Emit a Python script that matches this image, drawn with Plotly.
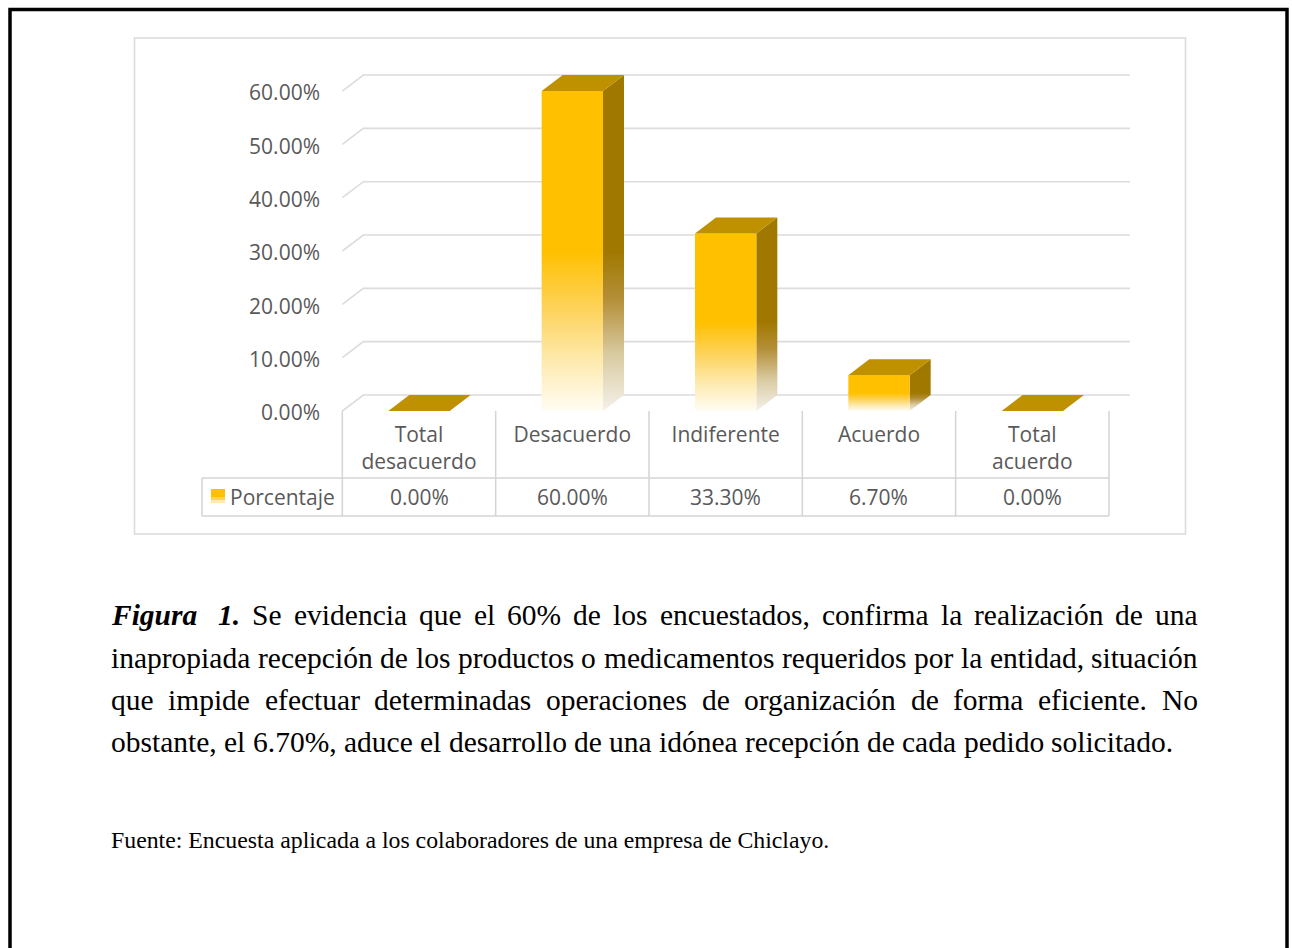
import plotly.graph_objects as go

# ---------------- data ----------------
categories = ["Total<br>desacuerdo", "Desacuerdo", "Indiferente", "Acuerdo", "Total<br>acuerdo"]
porcentaje = [0.0, 60.0, 33.3, 6.7, 0.0]
y_ticks = [0, 10, 20, 30, 40, 50, 60]
y_tick_labels = [f"{v:.2f}%" for v in y_ticks]
series_name = "Porcentaje"

caption_lines = [
    [("Figura", "bi"), ("1.", "bi"), "Se", "evidencia", "que", "el", "60%", "de", "los",
     "encuestados,", "confirma", "la", "realización", "de", "una"],
    ["inapropiada", "recepción", "de", "los", "productos", "o", "medicamentos", "requeridos",
     "por", "la", "entidad,", "situación"],
    ["que", "impide", "efectuar", "determinadas", "operaciones", "de", "organización", "de",
     "forma", "eficiente.", "No"],
    ["obstante,", "el", "6.70%,", "aduce", "el", "desarrollo", "de", "una", "idónea", "recepción",
     "de", "cada", "pedido", "solicitado."],
]
caption_justified = [True, True, True, False]
fuente = "Fuente: Encuesta aplicada a los colaboradores de una empresa de Chiclayo."

# ---------------- geometry (pixels) ----------------
W, H = 1292, 948
PX_CAT0 = 419.0          # pixel x of first category centre (front plane)
PX_PER_CAT = 153.33
PY_ZERO = 411.0          # pixel y of 0 % on the front plane
PX_PER_PCT = 5.333
X0 = (0 - PX_CAT0) / PX_PER_CAT
X1 = (W - PX_CAT0) / PX_PER_CAT
Y1 = PY_ZERO / PX_PER_PCT
Y0 = (PY_ZERO - H) / PX_PER_PCT
DX = 21 / PX_PER_CAT     # depth offset (categories)
DY = 16 / PX_PER_PCT     # depth offset (percent)
BW = 0.2                 # half bar width
NC = len(categories)


def pxx(x):
    return x / W


def pxy(y):
    return 1 - y / H


def cat_px(c):
    return PX_CAT0 + c * PX_PER_CAT


GOLD = "#FFC000"
TOP = "#BF9000"
SIDE = "#A07800"
GRID = "#DCDCDC"
TXT = "#595959"
SANS = "Open Sans"

fig = go.Figure()

# back-wall gridlines
gx, gy = [], []
for v in y_ticks:
    gx += [-0.5, -0.5 + DX, NC - 0.5 + DX, None]
    gy += [v, v + DY, v + DY, None]
fig.add_trace(go.Scatter(x=gx, y=gy, mode="lines", line=dict(color=GRID, width=1.6),
                         hoverinfo="skip", showlegend=False))

front_scale = [[0, "#FFFCF4"], [0.3, "#FEEBB2"], [0.65, "#FDD258"], [1, GOLD]]
side_scale = [[0, "#F4F1EA"], [0.35, "#D9CBA2"], [0.7, "#B48F38"], [1, SIDE]]

for i, v in enumerate(porcentaje):
    if v > 0:
        # side face
        fig.add_trace(go.Scatter(
            x=[i + BW, i + BW + DX, i + BW + DX, i + BW, i + BW],
            y=[0, DY, v + DY, v, 0], mode="lines", line=dict(width=0),
            fill="toself",
            fillgradient=dict(type="vertical", colorscale=side_scale, start=0, stop=v * 0.5),
            hoverinfo="skip", showlegend=False))
        # front face
        fig.add_trace(go.Scatter(
            x=[i - BW, i + BW, i + BW, i - BW, i - BW],
            y=[0, 0, v, v, 0], mode="lines", line=dict(width=0),
            fill="toself",
            fillgradient=dict(type="vertical", colorscale=front_scale, start=0, stop=v * 0.5),
            hoverinfo="skip", showlegend=False))
    # top face
    fig.add_trace(go.Scatter(
        x=[i - BW, i + BW, i + BW + DX, i - BW + DX, i - BW],
        y=[v, v, v + DY, v + DY, v], mode="lines", line=dict(width=0),
        fill="toself", fillcolor=TOP, hoverinfo="skip", showlegend=False))

# invisible trace carrying the visible axes
fig.add_trace(go.Scatter(x=list(range(NC)), y=porcentaje, xaxis="x2", yaxis="y2",
                         mode="markers", marker=dict(opacity=0), hoverinfo="skip",
                         showlegend=False))

shapes = []
# page border
shapes.append(dict(type="rect", xref="paper", yref="paper", x0=pxx(10), x1=pxx(1287),
                   y0=pxy(9.5), y1=pxy(1000), line=dict(color="black", width=3.5)))
# chart area border
shapes.append(dict(type="rect", xref="paper", yref="paper", x0=pxx(134.5), x1=pxx(1185.5),
                   y0=pxy(38), y1=pxy(534), line=dict(color="#D9D9D9", width=1.5)))
# data table
TBL_TOP, TBL_MID, TBL_BOT, TBL_LEFT = 411, 478, 516, 202
LINEC = "#D4D4D4"
for k in range(NC + 1):
    xx = cat_px(k - 0.5)
    shapes.append(dict(type="line", xref="paper", yref="paper", x0=pxx(xx), x1=pxx(xx),
                       y0=pxy(TBL_TOP), y1=pxy(TBL_BOT), line=dict(color=LINEC, width=1.5)))
for yy in (TBL_MID, TBL_BOT):
    shapes.append(dict(type="line", xref="paper", yref="paper", x0=pxx(TBL_LEFT),
                       x1=pxx(cat_px(NC - 0.5)), y0=pxy(yy), y1=pxy(yy),
                       line=dict(color=LINEC, width=1.5)))
shapes.append(dict(type="line", xref="paper", yref="paper", x0=pxx(TBL_LEFT), x1=pxx(TBL_LEFT),
                   y0=pxy(TBL_MID), y1=pxy(TBL_BOT), line=dict(color=LINEC, width=1.5)))
# legend key
for (a, b, c) in [(489, 497, GOLD), (497, 500.5, "#FDD258"), (500.5, 503, "#FEEBB2")]:
    shapes.append(dict(type="rect", xref="paper", yref="paper", x0=pxx(211), x1=pxx(225),
                       y0=pxy(b), y1=pxy(a), line=dict(width=0), fillcolor=c))

annotations = []
ROW_Y = 496.5
annotations.append(dict(x=pxx(229), y=pxy(ROW_Y), xref="paper", yref="paper", text=series_name,
                        showarrow=False, xanchor="left", yanchor="middle", borderpad=0,
                        font=dict(family=SANS, size=21, color=TXT)))
for i, v in enumerate(porcentaje):
    annotations.append(dict(x=i, y=pxy(ROW_Y), xref="x", yref="paper", text=f"{v:.2f}%",
                            showarrow=False, xanchor="center", yanchor="middle", borderpad=0,
                            font=dict(family=SANS, size=21, color=TXT)))

# ---------------- caption (justified) ----------------
TR = {' ': 250, '%': 833, ',': 250, '.': 250, ':': 278,
      'A': 722, 'B': 667, 'C': 667, 'D': 722, 'E': 611, 'F': 556, 'G': 722, 'H': 722, 'I': 333,
      'J': 389, 'K': 722, 'L': 611, 'M': 889, 'N': 722, 'O': 722, 'P': 556, 'Q': 722, 'R': 667,
      'S': 556, 'T': 611, 'U': 722, 'V': 722, 'W': 944, 'X': 722, 'Y': 722, 'Z': 611,
      'a': 444, 'b': 500, 'c': 444, 'd': 500, 'e': 444, 'f': 333, 'g': 500, 'h': 500, 'i': 278,
      'j': 278, 'k': 500, 'l': 278, 'm': 778, 'n': 500, 'o': 500, 'p': 500, 'q': 500, 'r': 333,
      's': 389, 't': 278, 'u': 500, 'v': 500, 'w': 722, 'x': 500, 'y': 500, 'z': 444,
      'á': 444, 'é': 444, 'í': 278, 'ó': 500, 'ú': 500, 'ñ': 500}
for d in "0123456789":
    TR[d] = 500
TBI = {'F': 667, 'i': 278, 'g': 500, 'u': 556, 'r': 389, 'a': 500, '1': 500, '.': 250}

CAP_FS = 29.5
CAP_XL, CAP_XR = 111, 1198
CAP_Y = [615, 658, 700, 742]
SERIF = "Liberation Serif"


def wwidth(word, table, fs):
    return sum(table.get(ch, 500) for ch in word) * fs / 1000.0


for li, words in enumerate(caption_lines):
    items = []
    for w in words:
        if isinstance(w, tuple):
            items.append((f"<b><i>{w[0]}</i></b>", wwidth(w[0], TBI, CAP_FS)))
        else:
            items.append((w, wwidth(w, TR, CAP_FS)))
    weights = [1.0] * (len(items) - 1)
    if li == 0:
        weights[0] = 1.8
    total_w = sum(wd for _, wd in items)
    if caption_justified[li]:
        gap = (CAP_XR - CAP_XL - total_w) / sum(weights)
    else:
        gap = 250 * CAP_FS / 1000.0
    x = CAP_XL
    for j, (txt, wd) in enumerate(items):
        last = caption_justified[li] and j == len(items) - 1
        annotations.append(dict(x=pxx(CAP_XR if last else x), y=pxy(CAP_Y[li]), xref="paper",
                                yref="paper", text=txt, showarrow=False,
                                xanchor="right" if last else "left", yanchor="middle",
                                borderpad=0, borderwidth=0,
                                font=dict(family=SERIF, size=CAP_FS, color="black")))
        if j < len(weights):
            x += wd + gap * weights[j]

annotations.append(dict(x=pxx(CAP_XL), y=pxy(840), xref="paper", yref="paper", text=fuente,
                        showarrow=False, xanchor="left", yanchor="middle", borderpad=0,
                        borderwidth=0, font=dict(family=SERIF, size=23.8, color="black")))

fig.update_layout(
    width=W, height=H, autosize=False,
    margin=dict(l=0, r=0, t=0, b=0, pad=0),
    paper_bgcolor="white", plot_bgcolor="rgba(0,0,0,0)",
    showlegend=False,
    xaxis=dict(range=[X0, X1], visible=False, domain=[0, 1], fixedrange=True),
    yaxis=dict(range=[Y0, Y1], visible=False, domain=[0, 1], fixedrange=True),
    xaxis2=dict(overlaying="x", anchor="free", position=pxy(PY_ZERO), range=[X0, X1],
                tickvals=list(range(NC)), ticktext=categories, tickangle=0,
                showgrid=False, zeroline=False, showline=False, ticks="",
                ticklabelstandoff=9, automargin=False,
                tickfont=dict(family=SANS, size=21, color=TXT)),
    yaxis2=dict(overlaying="y", anchor="free", position=pxx(320), range=[Y0, Y1],
                tickmode="array", tickvals=y_ticks, ticktext=y_tick_labels,
                ticklabelshift=2,
                showgrid=False, zeroline=False, showline=False, ticks="", automargin=False,
                tickfont=dict(family=SANS, size=21, color=TXT)),
    shapes=shapes,
    annotations=annotations,
)

fig.write_html("out.html", config={"displayModeBar": False},
               post_script="document.body.style.margin='0';")
